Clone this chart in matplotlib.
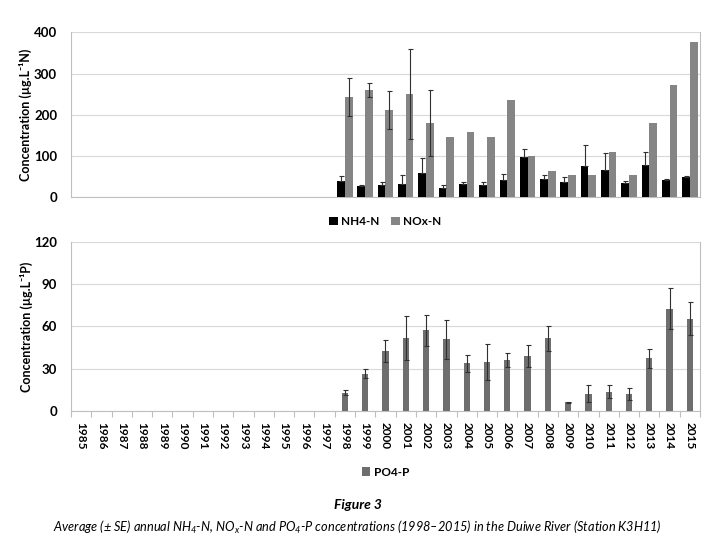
import numpy as np
import matplotlib
matplotlib.use("Agg")
import matplotlib.pyplot as plt

years = list(range(1985, 2016))
data_years = list(range(1998, 2016))

nh4 = [39, 27.5, 30, 33, 59, 23, 33, 29, 42, 98, 44, 37, 76, 66, 34, 78, 41, 49]
nh4_err = [13, 2.5, 6, 20, 35, 6, 3, 7, 14, 18, 9, 11.5, 51, 42, 6, 31, 4, 2]
nox = [242, 260, 211, 250, 180, 146, 159, 146, 235, 100, 64, 53, 54, 110, 53, 179, 272, 377]
nox_err = [46, 18, 46, 110, 81, 0, 0, 0, 0, 0, 0, 0, 0, 0, 0, 0, 0, 0]
po4 = [13, 26.5, 42.5, 51.7, 57.4, 50.8, 34, 34.7, 36, 39, 51.5, 6.1, 12.3, 13.7, 12, 37.3, 72.5, 65.4]
po4_err = [1.6, 3, 8, 15.6, 11, 14, 6, 12.5, 5, 8, 9, 0.3, 6, 4.7, 4, 7, 14.4, 11.8]

plt.rcParams['font.family'] = ['Lato', 'DejaVu Sans']
plt.rcParams['mathtext.fontset'] = 'custom'
plt.rcParams['mathtext.rm'] = 'Lato:italic'
plt.rcParams['mathtext.it'] = 'Lato:italic'

fig = plt.figure(figsize=(7.15, 5.54), dpi=100)
ax1 = fig.add_axes([0.0993, 0.644, 0.8797, 0.2977])
ax2 = fig.add_axes([0.0993, 0.2581, 0.8797, 0.3056])

xi = np.arange(len(years))
xd = np.array([years.index(y) for y in data_years])

grid_c = '#d9d9d9'
err_kw = dict(ecolor='#303030', elinewidth=0.8, capsize=1.8, capthick=0.8)

bw = 0.38
nox_e = [e if e > 0 else np.nan for e in nox_err]
ax1.bar(xd - bw / 2, nh4, bw, color='#000000', label='NH4-N', zorder=3)
ax1.errorbar(xd - bw / 2, nh4, yerr=[np.zeros(len(nh4)), nh4_err], fmt='none', zorder=4, **err_kw)
ax1.bar(xd + bw / 2, nox, bw, color='#858585', label='NOx-N', zorder=3)
ax1.errorbar(xd + bw / 2, nox, yerr=[nox_e, nox_e], fmt='none', zorder=4, **err_kw)
ax1.set_ylim(0, 400)
ax1.set_yticks([0, 100, 200, 300, 400])
ax1.set_xticks([])

ax2.bar(xd, po4, 0.31, color='#6e6e6e', label='PO4-P', zorder=3)
ax2.errorbar(xd, po4, yerr=po4_err, fmt='none', zorder=4, **err_kw)
ax2.set_ylim(0, 120)
ax2.set_yticks([0, 30, 60, 90, 120])
ax2.set_xticks(xi)
ax2.set_xticklabels([str(y) for y in years], rotation=270, fontsize=8.5, fontweight='bold')
ax2.set_xticks(np.arange(-0.5, len(years), 1), minor=True)
ax2.tick_params(axis='x', which='major', length=0, pad=8)
ax2.tick_params(axis='x', which='minor', length=4, color='#bfbfbf', width=0.8)

for ax in (ax1, ax2):
    ax.set_xlim(-0.5, len(years) - 0.5)
    ax.grid(axis='y', color=grid_c, linewidth=0.8, zorder=0)
    ax.set_axisbelow(True)
    for s in ('left', 'bottom', 'right'):
        ax.spines[s].set_color('#bfbfbf')
        ax.spines[s].set_linewidth(0.8)
    ax.spines['top'].set_visible(False)
    ax.tick_params(axis='y', length=0, labelsize=9.5, pad=10)
    for lab in ax.get_yticklabels():
        lab.set_fontweight('bold')

ax1.set_ylabel('Concentration (µg.L⁻¹N)', fontsize=9, fontweight='bold', labelpad=1)
ax2.set_ylabel('Concentration (µg.L⁻¹P)', fontsize=9, fontweight='bold', labelpad=1)

leg1 = ax1.legend(loc='upper center', bbox_to_anchor=(0.5, -0.05), ncol=2, frameon=False,
                  prop={'weight': 'bold', 'size': 8.5}, handlelength=0.7, handleheight=0.7,
                  handletextpad=0.3, columnspacing=1.0)
leg2 = ax2.legend(loc='upper center', bbox_to_anchor=(0.5, -0.265), ncol=1, frameon=False,
                  prop={'weight': 'bold', 'size': 8.5}, handlelength=0.7, handleheight=0.7,
                  handletextpad=0.3)

fig.text(0.5, 0.088, 'Figure 3', ha='center', va='center', fontsize=10,
         fontweight='bold', style='italic')
fig.text(0.5, 0.048,
         r'Average (± SE) annual NH$_4$-N, NO$_x$-N and PO$_4$-P concentrations (1998–2015) in the Duiwe River (Station K3H11)',
         ha='center', va='center', fontsize=9.2, style='italic')

fig.savefig('out.png', dpi=100)
